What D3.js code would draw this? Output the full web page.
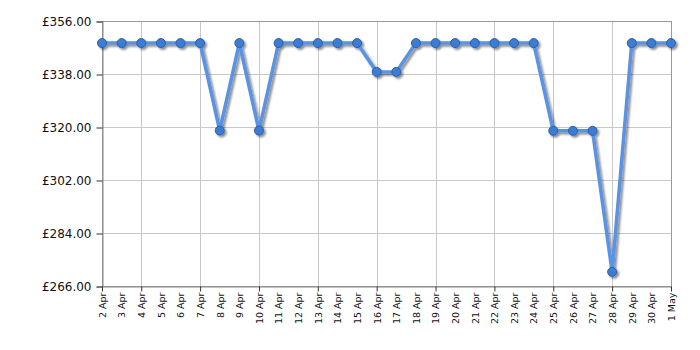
<!DOCTYPE html>
<html>
<head>
<meta charset="utf-8">
<script src="https://cdn.jsdelivr.net/npm/d3@7"></script>
<style>
body { margin: 0; background: #fff; }
svg { display: block; font-family: Verdana, "DejaVu Sans", sans-serif; }
</style>
</head>
<body>
<svg width="700" height="350"></svg>
<script>
// price per day, 2 Apr - 1 May
var dates = ["2 Apr","3 Apr","4 Apr","5 Apr","6 Apr","7 Apr","8 Apr","9 Apr","10 Apr",
	"11 Apr","12 Apr","13 Apr","14 Apr","15 Apr","16 Apr","17 Apr","18 Apr","19 Apr",
	"20 Apr","21 Apr","22 Apr","23 Apr","24 Apr","25 Apr","26 Apr","27 Apr","28 Apr",
	"29 Apr","30 Apr","1 May"];
var prices = [348.5,348.5,348.5,348.5,348.5,348.5,318.8,348.5,318.8,
	348.5,348.5,348.5,348.5,348.5,338.7,338.7,348.5,348.5,
	348.5,348.5,348.5,348.5,348.5,318.7,318.7,318.7,270.8,
	348.5,348.5,348.5];
var yTicks = [266, 284, 302, 320, 338, 356];
var gridDates = ["2 Apr","4 Apr","7 Apr","10 Apr","13 Apr","16 Apr","19 Apr","22 Apr","25 Apr","28 Apr","1 May"];

var pLeft = 102, pRight = 671, pTop = 21, pBottom = 286;

var svg = d3.select("svg");

var x = d3.scalePoint()
	.domain(dates)
	.range([pLeft, pRight]);

var y = d3.scaleLinear()
	.domain([266, 356])
	.range([pBottom, pTop]);

var defs = svg.append("defs");
var f = defs.append("filter").attr("id", "shadow")
	.attr("x", "-10%").attr("y", "-10%").attr("width", "130%").attr("height", "130%");
f.append("feGaussianBlur").attr("in", "SourceAlpha").attr("stdDeviation", 1).attr("result", "b");
f.append("feOffset").attr("in", "b").attr("dx", 2).attr("dy", 2).attr("result", "o");
f.append("feComponentTransfer").attr("in", "o").attr("result", "s")
	.append("feFuncA").attr("type", "linear").attr("slope", 0.45);
var m = f.append("feMerge");
m.append("feMergeNode").attr("in", "s");
m.append("feMergeNode").attr("in", "SourceGraphic");

// grid
svg.append("g")
	.selectAll("line")
	.data(yTicks)
	.join("line")
	.attr("x1", pLeft).attr("x2", pRight)
	.attr("y1", d => Math.round(y(d)) + 0.5).attr("y2", d => Math.round(y(d)) + 0.5)
	.attr("stroke", "#c8c8c8");

svg.append("g")
	.selectAll("line")
	.data(gridDates)
	.join("line")
	.attr("x1", d => Math.round(x(d)) + 0.5).attr("x2", d => Math.round(x(d)) + 0.5)
	.attr("y1", pTop).attr("y2", pBottom)
	.attr("stroke", "#c8c8c8");

// frame
svg.append("rect")
	.attr("x", pLeft + 0.5).attr("y", pTop + 0.5)
	.attr("width", pRight - pLeft).attr("height", pBottom - pTop)
	.attr("fill", "none")
	.attr("stroke", "#999");

// y axis
var yAxis = d3.axisLeft(y)
	.tickValues(yTicks)
	.tickSize(6)
	.tickPadding(5)
	.tickFormat(d => "£" + d3.format(".2f")(d));

var gy = svg.append("g")
	.attr("transform", "translate(" + (pLeft + 0.5) + ",0.5)")
	.call(yAxis);
gy.select(".domain").attr("stroke", "#888");
gy.selectAll(".tick line").attr("stroke", "#333");
gy.selectAll("text").attr("font-size", 12).attr("fill", "#111")
	.attr("font-family", "Verdana, 'DejaVu Sans', sans-serif");

// x axis
var xAxis = d3.axisBottom(x)
	.tickSize(0)
	.tickPadding(0);

var gx = svg.append("g")
	.attr("transform", "translate(0," + (pBottom + 0.5) + ")")
	.call(xAxis);
gx.select(".domain").attr("stroke", "#888");
gx.selectAll("text")
	.attr("font-size", 9.5)
	.attr("fill", "#111")
	.attr("font-family", "Verdana, 'DejaVu Sans', sans-serif")
	.attr("text-anchor", "end")
	.attr("dy", "0.35em")
	.attr("transform", "translate(0,6) rotate(-90)")
	.attr("x", 0).attr("y", 0);

gx.selectAll(".tick")
	.filter(d => gridDates.indexOf(d) >= 0)
	.append("line")
	.attr("y1", 0).attr("y2", 5)
	.attr("stroke", "#333");

// line and markers
var line = d3.line()
	.x((d, i) => x(dates[i]))
	.y(d => y(d));

var series = svg.append("g").attr("filter", "url(#shadow)");

series.append("path")
	.datum(prices)
	.attr("d", line)
	.attr("fill", "none")
	.attr("stroke", "#5a92e4")
	.attr("stroke-width", 3.5)
	.attr("stroke-linejoin", "round");

series.selectAll("circle")
	.data(prices)
	.join("circle")
	.attr("cx", (d, i) => x(dates[i]))
	.attr("cy", d => y(d))
	.attr("r", 4.5)
	.attr("fill", "#3e7bd3")
	.attr("stroke", "#2b5ea8")
	.attr("stroke-width", 1);
</script>
</body>
</html>
